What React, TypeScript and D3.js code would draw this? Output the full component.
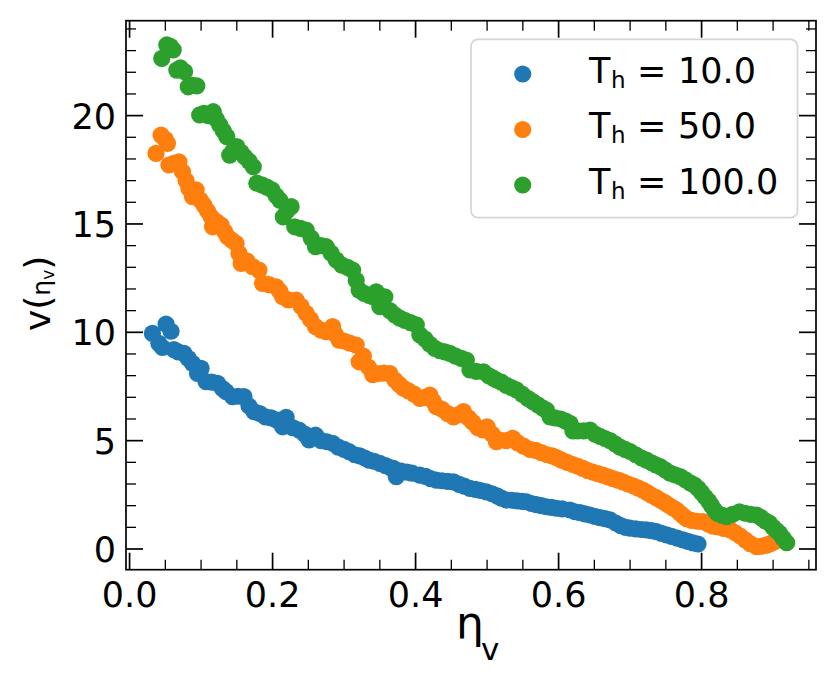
import React from "react";
import * as d3 from "d3";

// eta_v vs v(eta_v) for three hot temperatures
const th10: [number, number][] = [
  [0.032, 9.95], [0.041, 9.49], [0.046, 9.3], [0.051, 10.38], [0.058, 10.05], [0.062, 9.2],
  [0.068, 9.1], [0.076, 9.03], [0.082, 8.8], [0.088, 8.57], [0.095, 8.1], [0.1, 8.34],
  [0.107, 7.72], [0.115, 7.7], [0.123, 7.65], [0.13, 7.4], [0.135, 7.26], [0.144, 7.03],
  [0.152, 7.05], [0.16, 7.03], [0.167, 6.6], [0.174, 6.34], [0.182, 6.25], [0.19, 6.1],
  [0.198, 6.05], [0.206, 5.95], [0.214, 5.64], [0.219, 6.08], [0.228, 5.6], [0.237, 5.49],
  [0.245, 5.3], [0.251, 5.03], [0.26, 5.26], [0.268, 5.0], [0.276, 4.95], [0.284, 4.88],
  [0.292, 4.7], [0.3, 4.6], [0.307, 4.49], [0.315, 4.35], [0.322, 4.3], [0.329, 4.2],
  [0.335, 4.1], [0.342, 4.05], [0.35, 3.95], [0.358, 3.85], [0.365, 3.75], [0.369, 3.72],
  [0.373, 3.34], [0.38, 3.6], [0.388, 3.55], [0.395, 3.5], [0.406, 3.41], [0.414, 3.35],
  [0.421, 3.25], [0.429, 3.18], [0.437, 3.15], [0.445, 3.12], [0.453, 3.1], [0.461, 2.98],
  [0.468, 2.9], [0.476, 2.8], [0.484, 2.75], [0.491, 2.7], [0.499, 2.64], [0.507, 2.55],
  [0.514, 2.45], [0.52, 2.35], [0.527, 2.26], [0.535, 2.25], [0.542, 2.22], [0.549, 2.2],
  [0.555, 2.18], [0.562, 2.1], [0.569, 2.05], [0.576, 2.0], [0.583, 1.95], [0.59, 1.92],
  [0.597, 1.88], [0.605, 1.85], [0.616, 1.8], [0.623, 1.72], [0.63, 1.68], [0.637, 1.62],
  [0.644, 1.57], [0.651, 1.5], [0.658, 1.45], [0.665, 1.4], [0.672, 1.34], [0.68, 1.2],
  [0.687, 1.08], [0.694, 1.0], [0.7, 0.96], [0.708, 0.93], [0.716, 0.9], [0.723, 0.88],
  [0.73, 0.85], [0.737, 0.8], [0.744, 0.72], [0.751, 0.65], [0.758, 0.58], [0.766, 0.5],
  [0.774, 0.42], [0.781, 0.35], [0.788, 0.28], [0.795, 0.23],
];

const th50: [number, number][] = [
  [0.037, 18.26], [0.044, 19.1], [0.05, 18.9], [0.053, 18.72], [0.055, 17.72], [0.062, 17.8],
  [0.069, 17.87], [0.074, 17.41], [0.079, 17.0], [0.083, 16.64], [0.088, 16.26], [0.093, 16.57],
  [0.099, 16.1], [0.104, 15.87], [0.109, 15.6], [0.114, 15.33], [0.116, 14.87], [0.122, 15.1],
  [0.128, 14.95], [0.133, 14.65], [0.137, 14.41], [0.143, 14.25], [0.149, 14.1], [0.153, 13.64],
  [0.156, 13.18], [0.164, 13.3], [0.172, 13.03], [0.181, 12.87], [0.186, 12.26], [0.195, 12.2],
  [0.205, 12.1], [0.21, 11.9], [0.214, 11.64], [0.222, 11.5], [0.233, 11.49], [0.24, 11.2],
  [0.247, 10.88], [0.253, 10.6], [0.26, 10.26], [0.268, 10.1], [0.275, 10.03], [0.284, 10.26],
  [0.288, 9.9], [0.293, 9.64], [0.3, 9.6], [0.308, 9.5], [0.317, 9.41], [0.321, 8.64],
  [0.327, 8.9], [0.334, 8.4], [0.34, 8.05], [0.348, 8.1], [0.356, 8.12], [0.364, 8.1],
  [0.371, 7.8], [0.377, 7.6], [0.383, 7.42], [0.39, 7.3], [0.398, 7.15], [0.406, 6.95],
  [0.413, 7.0], [0.42, 7.1], [0.425, 6.8], [0.429, 6.57], [0.437, 6.45], [0.445, 6.25],
  [0.453, 6.1], [0.46, 6.2], [0.467, 6.34], [0.474, 6.05], [0.48, 5.85], [0.487, 5.6],
  [0.494, 5.5], [0.5, 5.64], [0.507, 5.3], [0.513, 4.95], [0.518, 5.03], [0.527, 5.0],
  [0.536, 5.11], [0.543, 4.9], [0.551, 4.75], [0.56, 4.6], [0.568, 4.55], [0.576, 4.45],
  [0.584, 4.35], [0.591, 4.3], [0.597, 4.22], [0.604, 4.1], [0.612, 4.0], [0.62, 3.9],
  [0.627, 3.82], [0.634, 3.72], [0.641, 3.62], [0.648, 3.55], [0.655, 3.48], [0.662, 3.41],
  [0.669, 3.33], [0.676, 3.25], [0.683, 3.18], [0.69, 3.1], [0.697, 3.0], [0.704, 2.92],
  [0.711, 2.82], [0.718, 2.72], [0.724, 2.6], [0.73, 2.48], [0.736, 2.38], [0.742, 2.26],
  [0.748, 2.15], [0.754, 2.02], [0.76, 1.9], [0.765, 1.8], [0.77, 1.65], [0.775, 1.5],
  [0.779, 1.4], [0.786, 1.32], [0.794, 1.28], [0.802, 1.26], [0.81, 1.15], [0.816, 1.05],
  [0.823, 1.02], [0.831, 0.95], [0.84, 0.88], [0.847, 0.75], [0.854, 0.6], [0.861, 0.42],
  [0.868, 0.25], [0.877, 0.11], [0.884, 0.13], [0.891, 0.18], [0.897, 0.26], [0.902, 0.34],
];

const th100: [number, number][] = [
  [0.045, 22.64], [0.052, 23.26], [0.057, 23.2], [0.061, 23.03], [0.066, 22.1], [0.071, 22.2],
  [0.077, 22.03], [0.082, 21.33], [0.088, 21.4], [0.094, 21.37], [0.098, 20.03], [0.104, 20.1],
  [0.11, 20.0], [0.117, 20.18], [0.121, 19.85], [0.126, 19.57], [0.131, 19.3], [0.136, 19.03],
  [0.14, 18.18], [0.145, 18.4], [0.15, 18.57], [0.156, 18.3], [0.161, 18.1], [0.167, 17.9],
  [0.173, 17.64], [0.178, 16.88], [0.185, 16.8], [0.192, 16.7], [0.199, 16.57], [0.205, 16.3],
  [0.21, 16.1], [0.215, 15.33], [0.22, 15.6], [0.226, 15.8], [0.231, 14.87], [0.239, 14.8],
  [0.247, 14.72], [0.254, 14.35], [0.26, 13.95], [0.268, 14.0], [0.275, 13.95], [0.282, 13.65],
  [0.289, 13.34], [0.297, 13.1], [0.305, 13.0], [0.312, 12.87], [0.317, 12.4], [0.321, 11.95],
  [0.328, 11.8], [0.335, 11.7], [0.34, 11.64], [0.345, 11.87], [0.35, 11.18], [0.357, 11.64],
  [0.364, 11.0], [0.371, 10.8], [0.378, 10.65], [0.385, 10.55], [0.393, 10.45], [0.401, 10.34],
  [0.406, 9.88], [0.413, 9.7], [0.42, 9.45], [0.427, 9.26], [0.434, 9.15], [0.441, 9.1],
  [0.448, 9.03], [0.456, 8.9], [0.464, 8.8], [0.471, 8.72], [0.476, 8.26], [0.485, 8.2],
  [0.495, 8.18], [0.502, 8.0], [0.508, 7.9], [0.513, 7.8], [0.52, 7.7], [0.527, 7.55],
  [0.534, 7.45], [0.541, 7.34], [0.549, 7.15], [0.557, 6.95], [0.564, 6.8], [0.571, 6.65],
  [0.578, 6.5], [0.583, 6.41], [0.588, 6.1], [0.595, 6.05], [0.603, 6.0], [0.61, 5.9],
  [0.616, 5.8], [0.62, 5.45], [0.627, 5.45], [0.635, 5.45], [0.644, 5.49], [0.651, 5.3],
  [0.658, 5.2], [0.665, 5.1], [0.672, 5.0], [0.679, 4.85], [0.686, 4.7], [0.693, 4.6],
  [0.7, 4.5], [0.708, 4.35], [0.716, 4.2], [0.723, 4.1], [0.73, 3.98], [0.736, 3.88],
  [0.742, 3.8], [0.749, 3.65], [0.756, 3.5], [0.763, 3.42], [0.77, 3.34], [0.777, 3.2],
  [0.784, 3.05], [0.79, 2.95], [0.795, 2.8], [0.8, 2.6], [0.805, 2.4], [0.81, 2.2],
  [0.814, 2.0], [0.818, 1.8], [0.822, 1.65], [0.829, 1.55], [0.835, 1.49], [0.843, 1.6],
  [0.853, 1.72], [0.861, 1.65], [0.869, 1.6], [0.877, 1.57], [0.883, 1.45], [0.889, 1.3],
  [0.895, 1.19], [0.9, 1.0], [0.905, 0.85], [0.909, 0.72], [0.914, 0.5], [0.919, 0.29],
];

const seriesData = [th10, th50, th100];
const seriesLabels = ["10.0", "50.0", "100.0"];
const seriesColors = ["#1f77b4", "#ff7f0e", "#2ca02c"];

const xMajor = [0, 0.2, 0.4, 0.6, 0.8];
const xMajorLabels = ["0.0", "0.2", "0.4", "0.6", "0.8"];
const yMajor = [0, 5, 10, 15, 20];

const W = 830;
const H = 678;
const left = 126;
const right = 816;
const top = 20.7;
const bottom = 569.7;
const font = "DejaVu Sans, sans-serif";

export default function App() {
  const x = d3.scaleLinear().domain([-0.005, 0.96]).range([left, right]);
  const y = d3.scaleLinear().domain([-0.955, 24.38]).range([bottom, top]);

  const xMinor = d3.range(0, 0.96, 0.05).filter((v) => !xMajor.some((m) => Math.abs(m - v) < 1e-6));
  const yMinor = d3.range(0, 24.5, 1).filter((v) => v % 5 !== 0);

  const majLen = 17;
  const minLen = 10;

  return (
    <svg
      width={W}
      height={H}
      style={{ position: "absolute", left: 0, top: 0, background: "#fff" }}
      fontFamily={font}
    >
      <defs>
        <clipPath id="plot">
          <rect x={left} y={top} width={right - left} height={bottom - top} />
        </clipPath>
      </defs>

      {/* points */}
      <g clipPath="url(#plot)">
        {seriesData.map((s, i) => (
          <g key={i} fill={seriesColors[i]}>
            {s.map((d, j) => (
              <circle key={j} cx={x(d[0])} cy={y(d[1])} r={8.6} />
            ))}
          </g>
        ))}
      </g>

      {/* ticks, inward on all four sides */}
      <g stroke="#000">
        {xMajor.map((v) => (
          <g key={"xm" + v} strokeWidth={1.7}>
            <line x1={x(v)} x2={x(v)} y1={bottom} y2={bottom - majLen} />
            <line x1={x(v)} x2={x(v)} y1={top} y2={top + majLen} />
          </g>
        ))}
        {xMinor.map((v) => (
          <g key={"xn" + v} strokeWidth={1.3}>
            <line x1={x(v)} x2={x(v)} y1={bottom} y2={bottom - minLen} />
            <line x1={x(v)} x2={x(v)} y1={top} y2={top + minLen} />
          </g>
        ))}
        {yMajor.map((v) => (
          <g key={"ym" + v} strokeWidth={1.7}>
            <line x1={left} x2={left + majLen} y1={y(v)} y2={y(v)} />
            <line x1={right} x2={right - majLen} y1={y(v)} y2={y(v)} />
          </g>
        ))}
        {yMinor.map((v) => (
          <g key={"yn" + v} strokeWidth={1.3}>
            <line x1={left} x2={left + minLen} y1={y(v)} y2={y(v)} />
            <line x1={right} x2={right - minLen} y1={y(v)} y2={y(v)} />
          </g>
        ))}
      </g>

      {/* frame */}
      <rect
        x={left}
        y={top}
        width={right - left}
        height={bottom - top}
        fill="none"
        stroke="#000"
        strokeWidth={1.7}
      />

      {/* tick labels */}
      <g fontSize={35} fill="#000">
        {xMajor.map((v, i) => (
          <text key={"xl" + v} x={x(v)} y={606.5} textAnchor="middle">
            {xMajorLabels[i]}
          </text>
        ))}
        {yMajor.map((v) => (
          <text key={"yl" + v} x={116} y={y(v) + 13} textAnchor="end">
            {v}
          </text>
        ))}
      </g>

      {/* x label */}
      <g fill="#000">
        <text x={456} y={638} fontSize={44}>η</text>
        <text x={481} y={660} fontSize={31}>v</text>
      </g>

      {/* y label */}
      <g transform="translate(50,331) rotate(-90)" fill="#000">
        <text x={0} y={0} fontSize={36}>
          v<tspan fontSize={36}>(</tspan>
          <tspan fontSize={25}>η</tspan>
          <tspan fontSize={17} dy={4}>v</tspan>
          <tspan fontSize={36} dy={-4}>)</tspan>
        </text>
      </g>

      {/* legend */}
      <rect
        x={471}
        y={39.3}
        width={326.5}
        height={178.4}
        rx={7}
        fill="#fff"
        fillOpacity={0.8}
        stroke="#d5d5d5"
        strokeWidth={1.7}
      />
      {seriesLabels.map((lab, i) => {
        const cy = 74 + i * 55.5;
        return (
          <g key={lab}>
            <circle cx={522.7} cy={cy} r={8.6} fill={seriesColors[i]} />
            <text x={589} y={cy + 8.7} fontSize={35}>T</text>
            <text x={611} y={cy + 13.7} fontSize={23}>h</text>
            <text x={637} y={cy + 8.7} fontSize={35}>=</text>
            <text x={678} y={cy + 8.7} fontSize={35}>{lab}</text>
          </g>
        );
      })}
    </svg>
  );
}
